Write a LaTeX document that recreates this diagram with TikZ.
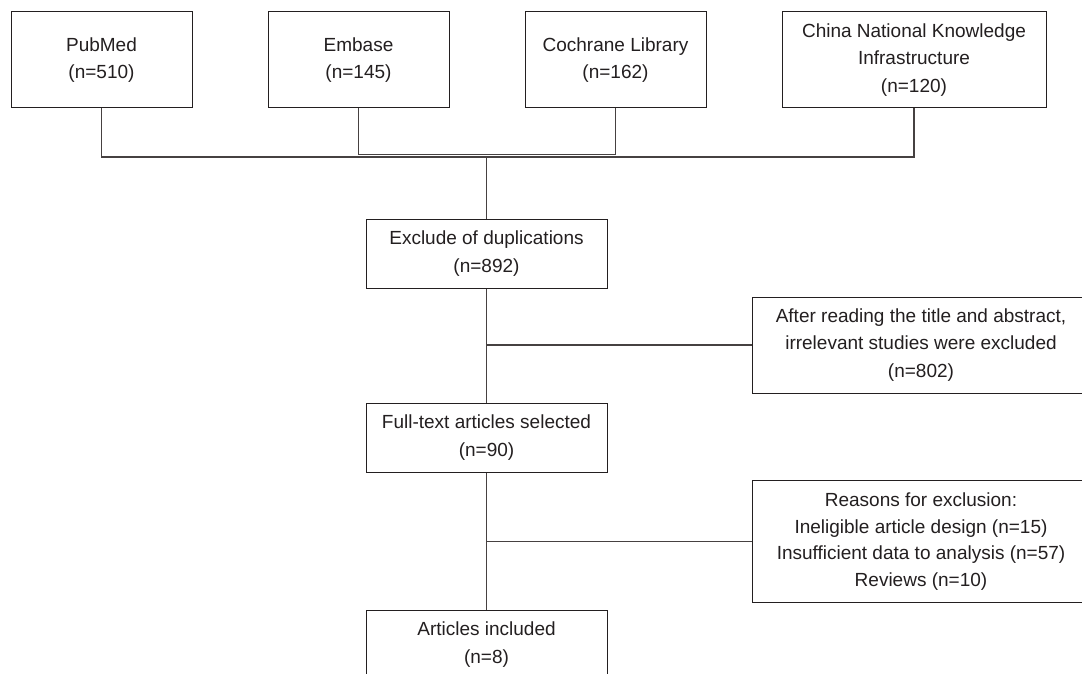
\documentclass[tikz,border=0pt]{standalone}
\usepackage{fontspec}
\setmainfont{Liberation Sans}
\definecolor{boxc}{RGB}{35,31,32}
\definecolor{linec}{RGB}{70,65,65}
\begin{document}
\begin{tikzpicture}[x=1pt,y=-1pt,
  fbox/.style={draw=boxc,line width=1pt,text=boxc,align=center,inner sep=0pt,
    font=\fontsize{19}{27.5}\selectfont},
  conn/.style={draw=linec,line width=1.2pt}]
\useasboundingbox (0,0) rectangle (1082,674);
\clip (0,0) rectangle (1082,674);
\fill[white] (0,0) rectangle (1082,674);
\node[fbox,minimum width=181pt,minimum height=96pt] (pub) at (101.5,60) {PubMed\\(n=510)};
\node[fbox,minimum width=181pt,minimum height=96pt] (emb) at (358.5,60) {Embase\\(n=145)};
\node[fbox,minimum width=181pt,minimum height=96pt] (coch) at (615.5,60) {Cochrane Library\\(n=162)};
\node[fbox,minimum width=264pt,minimum height=96pt] (cnki) at (914,60) {China National Knowledge\\Infrastructure\\(n=120)};
\node[fbox,minimum width=241pt,minimum height=69pt] (excl) at (486.5,253.5) {Exclude of duplications\\(n=892)};
\node[fbox,minimum width=338pt,minimum height=96pt] (after) at (921,345) {After reading the title and abstract,\\irrelevant studies were excluded\\(n=802)};
\node[fbox,minimum width=241pt,minimum height=69pt] (full) at (486.5,437.5) {Full-text articles selected\\(n=90)};
\node[fbox,minimum width=338pt,minimum height=122pt,font=\fontsize{19}{26.8}\selectfont] (reas) at (921,541.5) {Reasons for exclusion:\\Ineligible article design (n=15)\\Insufficient data to analysis (n=57)\\Reviews (n=10)};
\node[fbox,minimum width=241pt,minimum height=69pt] (art) at (486.5,644.5) {Articles included\\(n=8)};
\coordinate (j1) at (486.5,157);
\draw[conn] (pub.south) |- (j1) -| (cnki.south);
\draw[conn] (emb.south) -- ++(0,46) -| (coch.south);
\draw[conn] (j1) -- (excl.north);
\draw[conn] (excl.south) -- (full.north);
\draw[conn] (excl.south |- after.west) -- (after.west);
\draw[conn] (full.south) -- (art.north);
\draw[conn] (full.south |- reas.west) -- (reas.west);
\end{tikzpicture}
\end{document}
